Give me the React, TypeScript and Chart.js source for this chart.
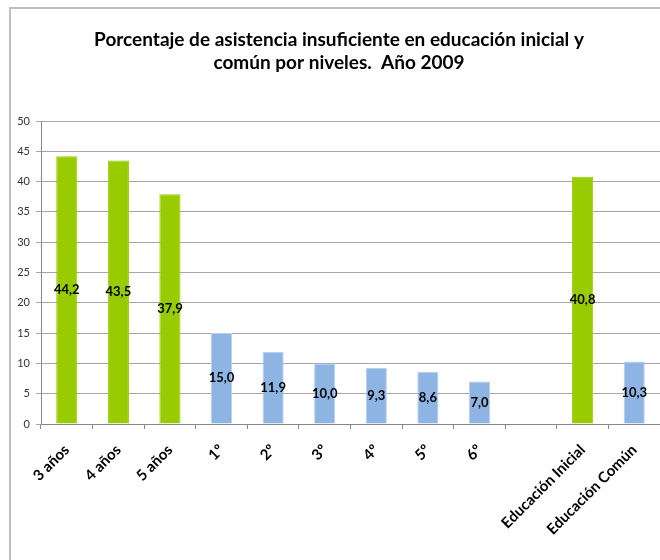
import React, { useEffect, useRef } from "react";
import { Chart, registerables } from "chart.js";

Chart.register(...registerables);

const titleLines = [
  "Porcentaje de asistencia insuficiente en educación inicial y",
  "común por niveles.  Año 2009",
];
const categories = [
  "3 años", "4 años", "5 años", "1º", "2º", "3º", "4º", "5º", "6º", "",
  "Educación Inicial", "Educación Común",
];
const values: (number | null)[] = [44.2, 43.5, 37.9, 15.0, 11.9, 10.0, 9.3, 8.6, 7.0, null, 40.8, 10.3];
const groups = ["ini", "ini", "ini", "com", "com", "com", "com", "com", "com", "", "ini", "com"];
const yTicks = { min: 0, max: 50, step: 5 };

const GREEN = "#99CC00";
const BLUE = "#8DB4E2";
const FONT = "Lato, 'Open Sans', sans-serif";

const labelPlugin = {
  id: "barLabels",
  afterDatasetsDraw(chart: any) {
    const ctx = chart.ctx;
    const meta = chart.getDatasetMeta(0);
    ctx.save();
    ctx.font = `bold 13px ${FONT}`;
    ctx.fillStyle = "#000";
    ctx.textAlign = "center";
    ctx.textBaseline = "middle";
    meta.data.forEach((bar: any, i: number) => {
      const v = values[i];
      if (v == null) return;
      const y = (bar.y + bar.base) / 2;
      ctx.fillText(v.toFixed(1).replace(".", ","), bar.x, y);
    });
    ctx.restore();
  },
};

const titlePlugin = {
  id: "customTitle",
  afterDraw(chart: any) {
    const ctx = chart.ctx;
    ctx.save();
    ctx.font = `bold 19px ${FONT}`;
    ctx.fillStyle = "#000";
    ctx.textAlign = "center";
    ctx.textBaseline = "middle";
    ctx.fillText(titleLines[0], 339, 40);
    ctx.fillText(titleLines[1], 339, 63);
    ctx.restore();
  },
};

export default function App() {
  const ref = useRef<HTMLCanvasElement>(null);
  useEffect(() => {
    document.body.style.margin = "0";
    const chart = new Chart(ref.current!, {
      type: "bar",
      data: {
        labels: categories,
        datasets: [
          {
            data: values,
            backgroundColor: groups.map((g) => (g === "ini" ? GREEN : BLUE)),
            borderColor: groups.map((g) => (g === "ini" ? GREEN : "#B8D0EE")),
            borderWidth: 1,
            categoryPercentage: 1,
            barPercentage: 0.41,
          },
        ],
      },
      options: {
        animation: false,
        responsive: false,
        layout: { padding: { top: 121, left: 0, right: 0, bottom: 0 } },
        plugins: { legend: { display: false }, title: { display: false }, tooltip: { enabled: false } },
        scales: {
          x: {
            grid: { display: true, drawOnChartArea: false, offset: true, tickLength: 5, color: "#888" },
            border: { color: "#888" },
            ticks: {
              minRotation: 45,
              maxRotation: 45,
              autoSkip: false,
              padding: 12,
              color: "#000",
              font: { family: FONT, size: 15, weight: "bold" },
            },
            afterFit: (s: any) => { s.height = 136; },
          },
          y: {
            min: yTicks.min,
            max: yTicks.max,
            ticks: { stepSize: yTicks.step, color: "#333", font: { family: FONT, size: 11 }, padding: 6 },
            grid: { color: "#A6A6A6", tickLength: 5 },
            border: { color: "#888" },
            afterFit: (s: any) => { s.width = 41; },
          },
        },
      },
      plugins: [labelPlugin, titlePlugin],
    });
    return () => chart.destroy();
  }, []);
  return (
    <div style={{ position: "relative", width: 660, height: 560 }}>
      <canvas ref={ref} width={660} height={560} style={{ position: "absolute", left: 0, top: 0 }} />
      <div
        style={{
          position: "absolute",
          left: 9,
          top: 7,
          width: 660,
          height: 560,
          borderTop: "2px solid #BFBFBF",
          borderLeft: "2px solid #BFBFBF",
          pointerEvents: "none",
        }}
      />
    </div>
  );
}
